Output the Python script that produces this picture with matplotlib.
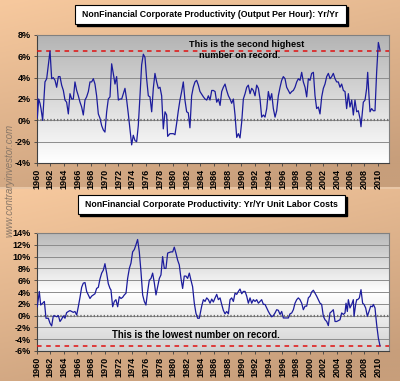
import numpy as np
import matplotlib.pyplot as plt
from matplotlib.patches import Rectangle
from matplotlib.colors import LinearSegmentedColormap

plt.rcParams['font.family'] = ['Liberation Sans', 'DejaVu Sans']

# Productivity (output per hour), yr/yr %
prod_years = [1960.0, 1960.12, 1960.32, 1960.51, 1960.66, 1960.9, 1961.24, 1961.49, 1961.73, 1961.98,
              1962.22, 1962.46, 1962.71, 1962.95, 1963.2, 1963.44, 1963.68, 1963.93, 1964.17, 1964.41,
              1964.66, 1964.9, 1965.15, 1965.39, 1965.63, 1965.88, 1966.12, 1966.37, 1966.61, 1966.85,
              1967.1, 1967.34, 1967.59, 1967.83, 1968.07, 1968.32, 1968.56, 1968.8, 1969.05, 1969.29,
              1969.54, 1969.78, 1970.02, 1970.27, 1970.51, 1970.76, 1971.0, 1971.24, 1971.49, 1971.73,
              1971.98, 1972.22, 1972.47, 1972.71, 1972.95, 1973.2, 1973.44, 1973.68, 1973.93, 1974.17,
              1974.42, 1974.66, 1974.9, 1975.15, 1975.39, 1975.64, 1975.88, 1976.12, 1976.37, 1976.61,
              1976.86, 1977.1, 1977.34, 1977.59, 1977.83, 1978.08, 1978.32, 1978.56, 1978.81, 1979.05,
              1979.2, 1979.54, 1979.78, 1980.03, 1980.27, 1980.51, 1980.76, 1981.0, 1981.25, 1981.49,
              1981.73, 1981.98, 1982.22, 1982.46, 1982.71, 1982.95, 1983.2, 1983.44, 1983.69, 1983.93,
              1984.43, 1984.67, 1984.92, 1985.16, 1985.4, 1985.65, 1985.89, 1986.14, 1986.38, 1986.62,
              1986.87, 1987.11, 1987.35, 1987.6, 1987.84, 1988.09, 1988.33, 1988.57, 1988.82, 1989.06,
              1989.31, 1989.55, 1989.79, 1990.04, 1990.28, 1990.53, 1990.77, 1991.01, 1991.26, 1991.5,
              1991.74, 1991.99, 1992.23, 1992.48, 1992.72, 1992.96, 1993.21, 1993.45, 1993.7, 1993.94,
              1994.18, 1994.43, 1994.67, 1994.92, 1995.16, 1995.4, 1995.65, 1995.89, 1996.13, 1996.38,
              1996.62, 1996.87, 1997.11, 1997.36, 1997.6, 1997.84, 1998.09, 1998.33, 1998.58, 1998.82,
              1999.06, 1999.31, 1999.55, 1999.79, 2000.04, 2000.28, 2000.53, 2000.77, 2001.01, 2001.26,
              2001.5, 2001.75, 2001.99, 2002.23, 2002.48, 2002.72, 2002.97, 2003.21, 2003.45, 2003.7,
              2003.94, 2004.18, 2004.43, 2004.67, 2004.92, 2005.16, 2005.4, 2005.65, 2005.89, 2006.14,
              2006.38, 2006.62, 2006.87, 2007.11, 2007.36, 2007.5, 2007.7, 2007.84, 2008.09, 2008.33,
              2008.48, 2008.67, 2008.82, 2009.06, 2009.31, 2009.55, 2009.79, 2010.04, 2010.28]
prod_vals = [3.4, 0.2, 2.0, 1.6, 1.1, 0.0, 3.6, 3.9, 5.2, 6.5,
             3.9, 4.0, 3.75, 3.1, 4.1, 4.1, 3.3, 2.8, 1.9, 1.7,
             0.6, 2.5, 2.0, 2.0, 3.6, 2.8, 2.3, 1.7, 1.25, 0.5,
             1.9, 2.2, 2.7, 3.6, 3.6, 3.9, 3.4, 2.3, 0.6, 0.2,
             -0.5, -0.9, -1.1, 0.8, 2.0, 2.2, 5.3, 4.4, 3.4, 4.1,
             1.9, 2.0, 2.0, 2.5, 3.0, 1.9, 0.6, -0.8, -2.3, -1.4,
             -1.9, -2.0, -0.5, 2.3, 5.2, 6.2, 5.9, 3.9, 2.3, 2.2,
             0.8, 3.0, 4.4, 3.6, 3.0, 3.1, 2.3, -0.8, 0.8, 0.5,
             -1.5, -1.25, -1.25, -1.25, -1.35, -0.3, 0.9, 1.9, 2.7, 3.6,
             1.9, 0.8, 0.7, -0.7, 2.3, 3.1, 3.6, 3.75, 3.3, 2.7,
             2.2, 2.0, 1.9, 2.3, 1.9, 2.8, 2.8, 2.7, 1.7, 2.0,
             1.4, 2.7, 3.1, 3.4, 2.8, 2.3, 2.0, 1.6, 2.0, 0.5,
             -1.6, -1.25, -1.65, -0.15, 2.0, 2.5, 3.1, 3.3, 2.5, 3.0,
             2.8, 2.3, 3.3, 3.0, 2.0, 0.3, 0.5, 0.3, 1.1, 2.7,
             1.9, 2.5, 1.1, 0.3, 0.9, 2.3, 3.1, 3.75, 4.1, 3.9,
             3.1, 2.8, 2.5, 2.7, 2.8, 3.1, 3.6, 3.9, 3.75, 4.5,
             3.6, 3.1, 2.2, 3.9, 3.75, 4.4, 4.5, 2.3, 1.1, 1.25,
             0.6, 2.2, 3.0, 3.4, 4.1, 4.4, 3.9, 4.1, 4.4, 3.9,
             3.6, 3.6, 3.1, 3.4, 2.8, 2.7, 1.1, 2.5, 1.25, 1.9,
             0.5, 1.9, 0.8, 0.9, 0.15, -0.6, 0.8, 1.7, 1.9, 3.0,
             4.5, 2.3, 0.8, 1.1, 0.9, 0.9, 4.5, 7.3, 6.6]

# Unit labor costs, yr/yr %
ulc_years = [1960.12, 1960.41, 1960.61, 1960.9, 1961.15, 1961.39, 1961.73, 1961.98, 1962.22, 1962.46,
             1962.71, 1962.95, 1963.2, 1963.44, 1963.68, 1963.93, 1964.17, 1964.41, 1964.66, 1964.9,
             1965.15, 1965.39, 1965.63, 1965.88, 1966.12, 1966.37, 1966.61, 1966.85, 1967.1, 1967.34,
             1967.59, 1967.83, 1968.07, 1968.32, 1968.56, 1968.8, 1969.05, 1969.29, 1969.54, 1969.78,
             1970.02, 1970.27, 1970.51, 1970.76, 1970.9, 1971.15, 1971.39, 1971.63, 1971.88, 1972.12,
             1972.37, 1972.61, 1972.85, 1973.1, 1973.34, 1973.59, 1973.83, 1974.07, 1974.32, 1974.56,
             1974.8, 1975.05, 1975.29, 1975.54, 1975.78, 1976.02, 1976.27, 1976.51, 1976.76, 1977.0,
             1977.24, 1977.49, 1977.73, 1977.98, 1978.22, 1978.46, 1978.71, 1978.95, 1979.2, 1979.44,
             1979.68, 1979.93, 1980.17, 1980.41, 1980.66, 1980.9, 1981.15, 1981.39, 1981.63, 1981.88,
             1982.12, 1982.37, 1982.61, 1982.85, 1983.1, 1983.34, 1983.59, 1983.83,
             1984.18, 1984.43, 1984.67, 1984.92, 1985.16, 1985.4, 1985.65, 1985.89, 1986.14, 1986.38,
             1986.62, 1986.87, 1987.11, 1987.35, 1987.6, 1987.84, 1988.09, 1988.33, 1988.57, 1988.82,
             1989.06, 1989.31, 1989.55, 1989.79, 1990.04, 1990.28, 1990.53, 1990.77, 1991.01, 1991.26,
             1991.5, 1991.74, 1991.99, 1992.23, 1992.48, 1992.72, 1992.96, 1993.21, 1993.45, 1993.7,
             1993.94, 1994.18, 1994.43, 1994.67, 1994.92, 1995.16, 1995.4, 1995.65, 1995.89, 1996.13,
             1996.38, 1996.62, 1996.87, 1997.11, 1997.36, 1997.6, 1997.84, 1998.09, 1998.33, 1998.57,
             1998.82, 1999.06, 1999.31, 1999.55, 1999.79, 2000.04, 2000.28, 2000.53, 2000.77, 2001.01,
             2001.26, 2001.5, 2001.74, 2001.99, 2002.23, 2002.48, 2002.72, 2002.96, 2003.21, 2003.45,
             2003.7, 2003.94, 2004.18, 2004.43, 2004.67, 2004.92, 2005.16, 2005.31, 2005.5, 2005.65,
             2005.89, 2006.14, 2006.38, 2006.48, 2006.72, 2006.87, 2007.01, 2007.26, 2007.5, 2007.74,
             2007.94, 2008.18, 2008.43, 2008.67, 2008.92, 2009.16, 2009.31, 2009.55, 2009.79, 2010.04,
             2010.28]
ulc_vals = [1.5, 4.1, 1.8, 2.1, 2.4, -0.45, -0.45, -1.3, -1.75, -0.05,
            -0.05, -0.2, 0.0, -1.0, -0.6, -0.05, -0.45, 0.5, 0.7, 0.85,
            0.7, 0.55, 0.7, 0.1, 1.5, 3.1, 4.8, 5.5, 5.6, 4.1,
            3.5, 2.9, 3.3, 3.5, 3.7, 4.6, 4.8, 6.2, 7.2, 7.7,
            8.8, 7.2, 5.4, 4.6, 4.35, 1.5, 2.4, 2.7, 1.5, 3.2,
            2.9, 3.1, 3.5, 3.8, 6.3, 8.0, 8.9, 10.8, 11.2, 12.0,
            12.9, 10.8, 7.5, 3.5, 2.4, 1.8, 4.1, 6.0, 6.3, 7.2,
            5.6, 3.5, 4.9, 6.3, 6.9, 10.0, 8.0, 8.0, 10.6, 10.7,
            10.8, 10.8, 11.6, 10.6, 9.4, 8.6, 6.3, 4.6, 6.7, 6.7,
            6.3, 7.2, 6.0, 4.9, 2.1, 0.4, -0.45, -0.45,
            1.6, 2.7, 2.4, 3.0, 2.7, 2.1, 2.8, 2.3, 3.0, 3.6,
            2.7, 3.0, 1.9, 0.9, 0.3, 0.7, 0.3, 2.7, 3.0, 2.4,
            3.8, 3.6, 4.1, 4.5, 3.7, 4.1, 4.1, 3.3, 2.1, 3.0,
            2.1, 2.7, 2.4, 2.7, 2.1, 2.4, 2.7, 1.9, 1.9, 1.3,
            0.7, 0.2, -0.2, 0.0, 0.45, 1.0, 0.9, 0.2, 0.7, -0.4,
            -0.4, -0.4, -0.4, 0.3, 0.45, 1.0, 2.1, 2.7, 3.0, 2.7,
            2.1, 1.0, 1.6, 1.6, 3.0, 3.3, 4.0, 4.3, 3.8, 3.3,
            2.7, 2.1, 1.9, -0.1, -0.7, -1.0, -1.7, 0.45, 0.7, 1.0,
            -1.0, -1.0, -0.85, -0.7, 0.45, 0.2, 0.45, 2.1, 0.7, 2.7,
            1.3, 1.9, 2.7, -0.1, 1.9, 2.7, 2.7, 3.0, 4.4, 2.1,
            1.9, 1.3, -0.1, 0.7, 1.6, 1.5, 1.9, 1.3, -1.5, -3.8,
            -5.1]

prod_ref = 6.5
ulc_ref = -5.1
year_ticks = list(range(1960, 2011, 2))

W, H = 400, 381
fig = plt.figure(figsize=(W / 100, H / 100), dpi=100)

# tan gradient backgrounds for both panels
bg = fig.add_axes([0, 0, 1, 1], zorder=-10)
bg.set_axis_off()
tan = LinearSegmentedColormap.from_list('tan', ['#f7c99e', '#c79e7b'])
gx, gy = np.meshgrid(np.linspace(0, 1, 200), np.linspace(0, 1, 200))
grad = np.clip(0.35 * gx + 0.75 * gy, 0, 1)
bg.imshow(grad, cmap=tan, extent=[0, 1, 1 - 187 / H, 1], origin='upper', aspect='auto')
bg.imshow(grad, cmap=tan, extent=[0, 1, 0, 1 - 189 / H], origin='upper', aspect='auto')
bg.axhline(1 - 188 / H, color='#e8c6a6', lw=1.5)
bg.set_xlim(0, 1)
bg.set_ylim(0, 1)

gray_top = LinearSegmentedColormap.from_list('gt', ['#b4b4b4', '#ffffff'])
gray_mid = LinearSegmentedColormap.from_list('gm', ['#b9b9b9', '#ffffff', '#d2d2d2'])


def style_axes(ax, ylo, yhi, cmap):
    ax.set_xlim(1960, 2011.6)
    ax.set_ylim(ylo, yhi)
    ax.imshow(np.linspace(0, 1, 100).reshape(-1, 1), cmap=cmap, aspect='auto',
              extent=[1960, 2011.6, ylo, yhi], origin='upper', zorder=0)
    ax.set_yticks(np.arange(ylo, yhi + 1, 2))
    ax.set_yticklabels([f"{v}%" for v in range(ylo, yhi + 1, 2)])
    ax.set_xticks(year_ticks)
    ax.set_xticklabels([str(y) for y in year_ticks], rotation=90)
    for lab in ax.get_xticklabels() + ax.get_yticklabels():
        lab.set_fontweight('bold')
        lab.set_fontsize(6.5)
    ax.tick_params(axis='both', length=2.5, width=0.6, pad=1.5, colors='#404040', labelcolor='black')
    ax.grid(axis='y', color='#8c8c8c', lw=0.7, zorder=1)
    ax.axhline(0, color='#707070', lw=1.6, ls=(0, (0.6, 0.9)), zorder=2)
    for s in ax.spines.values():
        s.set_color('#808080')
        s.set_linewidth(0.8)
    ax.spines['left'].set_color('#404040')
    ax.spines['bottom'].set_color('#404040')


ax1 = fig.add_axes([36.5 / W, 1 - 163 / H, (389 - 36.5) / W, 128 / H])
style_axes(ax1, -4, 8, gray_top)
ax1.plot(prod_years, prod_vals, color='#1c1c9c', lw=0.9, zorder=4)
ax1.axhline(prod_ref, color='#e01010', lw=1.1, ls=(0, (3, 3)), zorder=3)
ax1.text(1982.3, 6.6, "This is the second highest\n    number on record.",
         fontsize=6.6, fontweight='bold', va='center', ha='left', linespacing=1.25, zorder=5)

ax2 = fig.add_axes([36.5 / W, 1 - 351 / H, (389 - 36.5) / W, 118 / H])
style_axes(ax2, -6, 14, gray_mid)
ax2.plot(ulc_years, ulc_vals, color='#1c1c9c', lw=0.9, zorder=4)
ax2.axhline(ulc_ref, color='#e01010', lw=1.1, ls=(0, (3, 3)), zorder=3)
ax2.text(1971.0, -3.3, "This is the lowest number on record.",
         fontsize=6.9, fontweight='bold', va='center', ha='left', zorder=5)


def title_box(x0, x1, ytop, ybot, text):
    fx0, fx1 = x0 / W, x1 / W
    fy0, fy1 = 1 - ybot / H, 1 - ytop / H
    fig.patches.append(Rectangle((fx0 + 2 / W, fy0 - 2 / H), fx1 - fx0, fy1 - fy0,
                                 transform=fig.transFigure, color='black', zorder=5))
    fig.patches.append(Rectangle((fx0, fy0), fx1 - fx0, fy1 - fy0, transform=fig.transFigure,
                                 facecolor='white', edgecolor='black', lw=0.8, zorder=6))
    fig.text((fx0 + fx1) / 2, (fy0 + fy1) / 2, text, ha='center', va='center',
             fontsize=6.3, fontweight='bold', zorder=7)


title_box(75, 346, 5, 24, "NonFinancial Corporate Productivity (Output Per Hour): Yr/Yr")
title_box(78, 345, 195, 214, "NonFinancial Corporate Productivity: Yr/Yr Unit Labor Costs")

fig.text(10 / W, 1 - 180 / H, "www.contraryinvestor.com", rotation=90, ha='center', va='center',
         fontsize=7, color='#8a7868', style='italic')

fig.savefig("out.png", dpi=100)
